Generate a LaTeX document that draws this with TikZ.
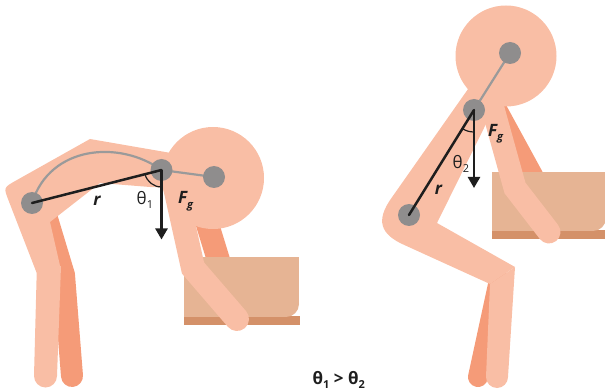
\documentclass[tikz,border=0pt]{standalone}
\usepackage{fontspec}
\setmainfont{Open Sans}
\usetikzlibrary{arrows.meta}

\definecolor{skin}{HTML}{F9BEA5}
\definecolor{skindark}{HTML}{F59B78}
\definecolor{boxtop}{HTML}{E6B494}
\definecolor{boxbase}{HTML}{D49169}
\definecolor{jointgray}{HTML}{8F8D8D}
\definecolor{linkgray}{HTML}{9A9A9A}
\definecolor{ink}{HTML}{1E1E1E}

% angle symbol with a lowered index
\newcommand\thsub[1]{θ\raisebox{-4pt}{\fontsize{11}{11}\selectfont #1}}
% gravity force label
\newcommand\forcelabel{{\bfseries\itshape F\raisebox{-4.5pt}{\fontsize{11}{11}\selectfont g}}}

\begin{document}
\begin{tikzpicture}[x=1pt,y=-1pt,
  lightlimb/.style={draw=skin, line width=#1, line join=miter, line cap=round},
  darklimb/.style={draw=skindark, line width=#1, line join=miter, line cap=round},
  joint/.style={circle, fill=jointgray, minimum size=22pt, inner sep=0pt},
  link/.style={draw=linkgray, line width=2.2pt},
  lever/.style={draw=ink, line width=2.5pt, line cap=round},
  force/.style={draw=ink, line width=2.4pt, -{Triangle[length=11pt,width=12pt]}},
  anglearc/.style={draw=ink, line width=1.2pt},
  lbl/.style={inner sep=0pt, text=ink, font=\fontsize{17}{17}\selectfont, anchor=base west},
  rlbl/.style={inner sep=0pt, text=ink, font=\fontsize{17}{17}\selectfont\bfseries\itshape}
]
\useasboundingbox (0,0) rectangle (605,390);

% ---------------- bent-over lifter ----------------
\coordinate (H1) at (32,203);
\coordinate (S1) at (161.5,170);
\coordinate (N1) at (214,177);
\coordinate (F1) at (161.5,239.5);

% back leg and back arm
\draw[darklimb=22] (45,212) -- (64,275) -- (72,376);
\draw[darklimb=23] (200,200) -- (224,278);

% torso and front thigh
\fill[skin] (36.7,273) -- (8.6,200.6) .. controls (3.5,187.6) .. (15.7,180.7)
  -- (90,139) -- (171,153) -- (176,188) -- (150,187) -- (100,183)
  -- (50,222) -- (61,270) -- cycle;
% front shin with rounded foot
\fill[skin] (61,266) -- (57,376) arc[start angle=0, end angle=180, radius=11.5]
  -- (36.7,273) -- (40,266) -- cycle;
% head
\fill[skin] (213,178) circle[radius=51];

% box
\fill[boxbase] (184,316) rectangle (300,325);
\fill[boxtop] (184,257) rectangle (286,317);
\fill[boxtop] (184,257) rectangle (299,304);
\fill[boxtop] (286,304) circle[radius=13];

% front arm
\draw[lightlimb=24] (173,178) -- (193,268) -- (237,319);

% spine and neck links
\draw[link] (H1) .. controls (50,145) and (120,140) .. (S1);
\draw[link] (S1) -- (N1);
\node[joint] (hip1) at (H1) {};
\node[joint] (shoulder1) at (S1) {};
\node[joint] (neck1) at (N1) {};

% lever arm, weight and angle
\draw[lever] (hip1.center) -- (shoulder1.center);
\draw[force] (shoulder1.center) -- (F1);
\draw[anglearc] (S1) ++(90:17) arc[start angle=90, end angle=165.7, radius=17];

\node[rlbl] (r1) at (97,201) {r};
\node[lbl] (theta1) at (136.5,205) {\thsub{1}};
\node[lbl] (fg1) at (178,204) {\forcelabel};

% ---------------- squatting lifter ----------------
\coordinate (H2) at (409,215);
\coordinate (S2) at (474,110);
\coordinate (N2) at (510,53);
\coordinate (F2) at (474,188);

% back leg and back arm
\draw[darklimb=20] (499,280) -- (478,377);
\draw[darklimb=22] (487,93) -- (541,192);

% torso and front thigh
\fill[skin] (515,267) -- (490,284) -- (404.1,244.9)
  .. controls (379.8,234.1) and (375.9,220.2) .. (391.2,198.4)
  -- (480,72) -- (500,95) -- (484,128) -- (437,223) -- cycle;
% front shin with rounded foot
\fill[skin] (515,267) -- (508,377) arc[start angle=0, end angle=180, radius=11]
  -- (490,284) -- cycle;
% head
\fill[skin] (506,56) circle[radius=50.5];

% box
\fill[boxbase] (492,230) rectangle (606,239);
\fill[boxtop] (492,172) rectangle (593,231);
\fill[boxtop] (492,172) rectangle (605,218);
\fill[boxtop] (593,218) circle[radius=13];

% front arm
\draw[lightlimb=23] (490,98) -- (515,188) -- (549,232);

% neck link
\draw[link] (S2) -- (N2);
\node[joint] (hip2) at (H2) {};
\node[joint] (shoulder2) at (S2) {};
\node[joint] (neck2) at (N2) {};

% lever arm, weight and angle
\draw[lever] (hip2.center) -- (shoulder2.center);
\draw[force] (shoulder2.center) -- (F2);
\draw[anglearc] (S2) ++(90:22) arc[start angle=90, end angle=121.8, radius=22];

\node[rlbl] (r2) at (438.5,190) {r};
\node[lbl] (theta2) at (452.5,168.3) {\thsub{2}};
\node[lbl] (fg2) at (488,136.5) {\forcelabel};

% ---------------- comparison ----------------
\node[lbl] (compare) at (312.5,384.5) {\bfseries θ\raisebox{-3.5pt}{\fontsize{11}{11}\selectfont 1} > θ\raisebox{-3.5pt}{\fontsize{11}{11}\selectfont 2}};
\end{tikzpicture}
\end{document}
